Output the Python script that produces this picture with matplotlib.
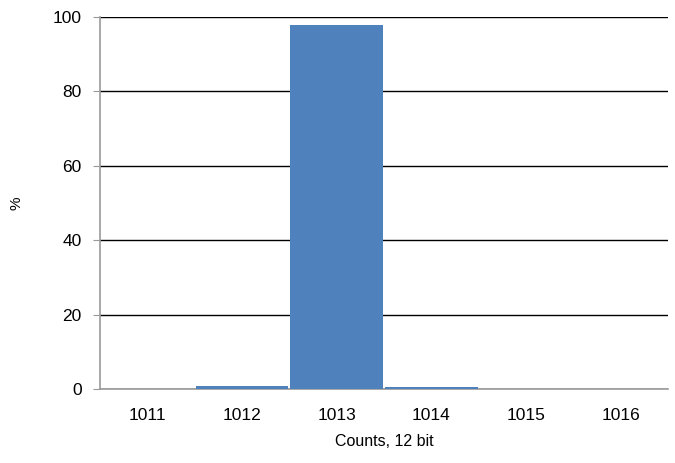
import matplotlib.pyplot as plt

plt.rcParams['font.family'] = ['Liberation Sans', 'DejaVu Sans']

categorias = ['1011', '1012', '1013', '1014', '1015', '1016']
percentuais = [0.0, 0.9, 98.0, 0.4, 0.0, 0.0]

fig = plt.figure(figsize=(6.75, 4.63), dpi=100)
ax = fig.add_axes([0.148, 0.16, 0.842, 0.803])

x = range(len(categorias))
ax.bar(x, percentuais, width=0.98, color='#4f81bd', zorder=3)

ax.set_xlim(-0.5, len(categorias) - 0.5)
ax.set_ylim(0, 100)
ax.set_yticks([0, 20, 40, 60, 80, 100])
ax.set_xticks(list(x))
ax.set_xticklabels(categorias)
ax.yaxis.grid(True, color='black', linewidth=1, zorder=0)

for lado in ['top', 'right']:
    ax.spines[lado].set_visible(False)
ax.spines['left'].set_color('#999999')
ax.spines['bottom'].set_color('#999999')
ax.spines['left'].set_linewidth(1.2)
ax.spines['bottom'].set_linewidth(1.2)

ax.tick_params(axis='y', direction='out', length=5, color='#999999',
               labelsize=12.5, pad=8)
ax.tick_params(axis='x', length=0, labelsize=12.5, pad=14)

ax.set_ylabel('%', fontsize=11)
ax.yaxis.set_label_coords(-0.135, 0.5)
ax.set_xlabel('Counts, 12 bit', fontsize=11.5, labelpad=8)

fig.savefig('out.png', dpi=100)
